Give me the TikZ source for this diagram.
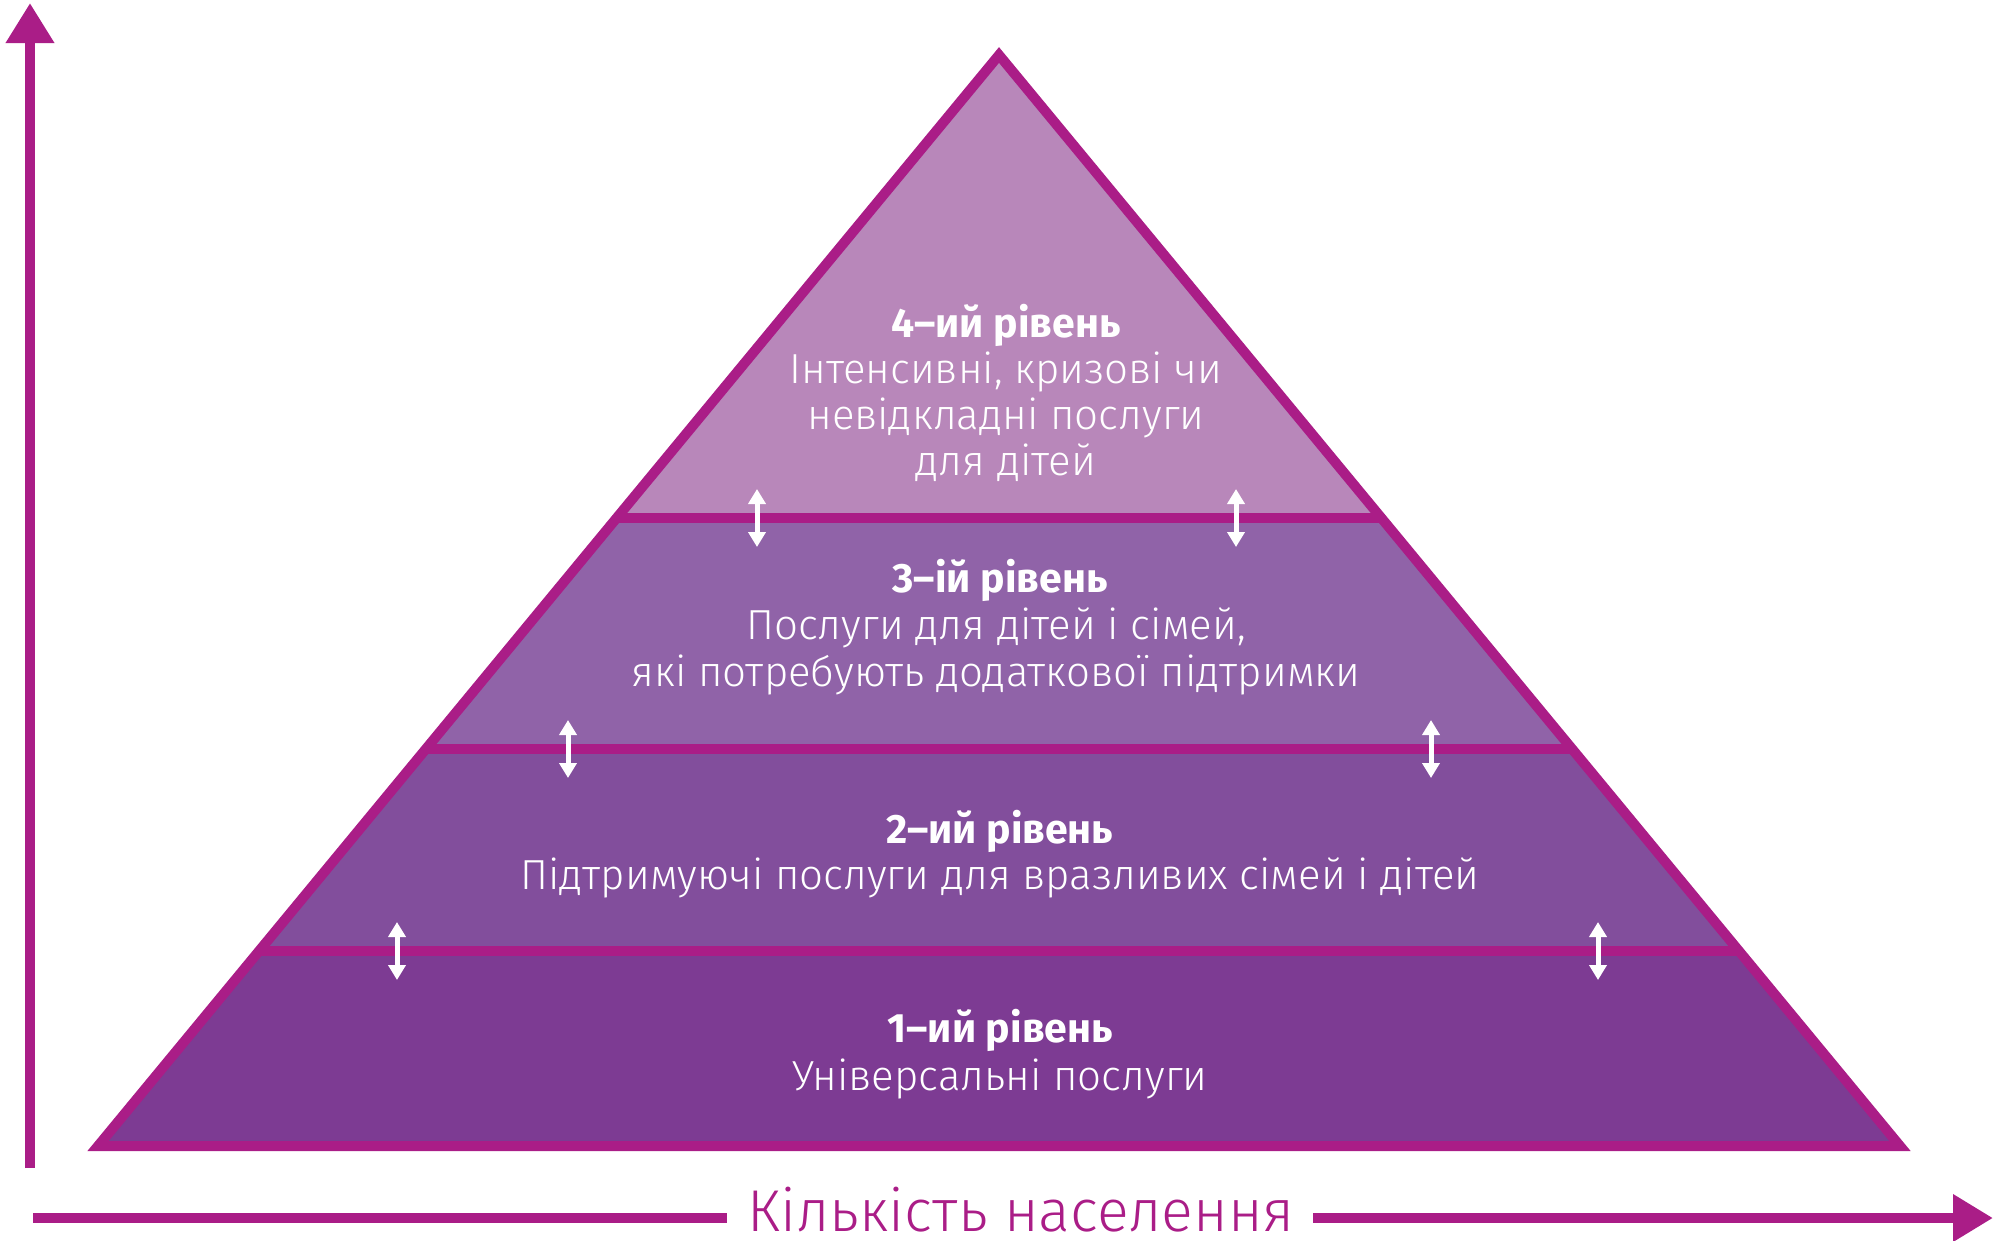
\documentclass[tikz,border=0pt]{standalone}
\usepackage{fontspec}
\setmainfont{Fira Sans}[UprightFont={* Light},BoldFont={* Bold}]
\usetikzlibrary{calc,arrows.meta}
\definecolor{rim}{RGB}{170,29,135}
\definecolor{lvlfour}{RGB}{184,135,186}
\definecolor{lvlthree}{RGB}{144,99,168}
\definecolor{lvltwo}{RGB}{130,78,156}
\definecolor{lvlone}{RGB}{125,59,147}
\tikzset{
  lvl/.style={anchor=base,text=white,inner sep=0pt,font=\fontsize{42}{48}\selectfont},
  lvlhead/.style={lvl,font=\fontsize{41}{48}\selectfont\bfseries},
  twoway/.style={white,line width=5pt,{Triangle[length=15pt,width=17pt]}-{Triangle[length=15pt,width=17pt]}}
}
\begin{document}
\begin{tikzpicture}[x=1pt,y=-1pt]
				\useasboundingbox (0,0) rectangle (2002,1240);
				\coordinate (A) at (999,55);
				\coordinate (L) at (98,1146);
				\coordinate (R) at (1900,1146);
				
				\begin{scope}
					\clip (A) -- (L) -- (R) -- cycle;
					\fill[lvlfour] (0,0) rectangle (2002,518);
					\fill[lvlthree] (0,518) rectangle (2002,749);
					\fill[lvltwo] (0,749) rectangle (2002,951);
					\fill[lvlone] (0,951) rectangle (2002,1240);
					\foreach \y in {518,749,951}{
						\draw[rim,line width=10pt] (0,\y) -- (2002,\y);}
				\end{scope}
				\draw[rim,line width=10pt,line join=miter] (A) -- (L) -- (R) -- cycle;
				
				\foreach \x/\y in {757/518,1236/518,568/749,1431/749,397/951,1598/951}{
					\draw[twoway] (\x,\y-29) -- (\x,\y+29);}
				
				\node[lvlhead] (fourh) at (1006,337) {4–ий рівень};
				\node[lvl] (foura) at (1006,383) {Інтенсивні, кризові чи};
				\node[lvl] (fourb) at (1006,429) {невідкладні послуги};
				\node[lvl] (fourc) at (1006,475) {для дітей};
				
				\node[lvlhead] (threeh) at (1000,592) {3–ій рівень};
				\node[lvl] (threea) at (996,639) {Послуги для дітей і сімей,};
				\node[lvl] (threeb) at (996,686) {які потребують додаткової підтримки};
				
				\node[lvlhead] (twoh) at (1000,843) {2–ий рівень};
				\node[lvl] (twoa) at (1000,889) {Підтримуючі послуги для вразливих сімей і дітей};
				
				\node[lvlhead] (oneh) at (1000,1042) {1–ий рівень};
				\node[lvl] (onea) at (1000,1090) {Універсальні послуги};
				
				\coordinate (ybot) at (30,1168);
				\coordinate (ytop) at (30,3);
				\draw[rim,line width=10pt,-{Triangle[length=40pt,width=46pt]}] (ybot) -- (ytop);
				
				\node[anchor=base,text=rim,inner sep=0pt,font=\fontsize{59}{62}\selectfont] (popu) at (1021,1231) {Кількість населення};
				\coordinate (xl) at (33,1218);
				\coordinate (xm) at (727,1218);
				\coordinate (xn) at (1313,1218);
				\coordinate (xr) at (1993,1218);
				\draw[rim,line width=10pt] (xl) -- (xm);
				\draw[rim,line width=10pt,-{Triangle[length=40pt,width=45pt]}] (xn) -- (xr);
			\end{tikzpicture}
\end{document}
